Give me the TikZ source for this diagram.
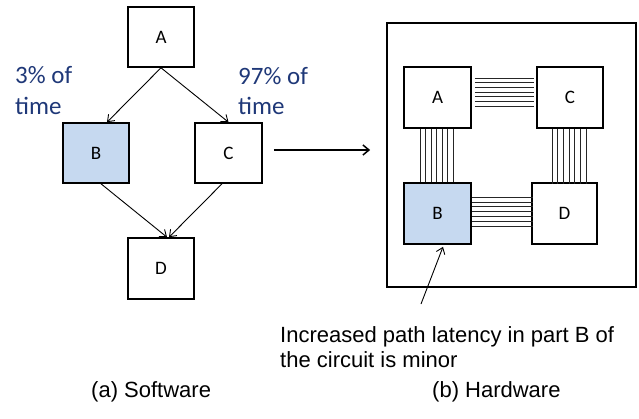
\documentclass[tikz,border=0pt]{standalone}
\usepackage{fontspec}
\setmainfont{Liberation Sans}
\newfontfamily\calibri{Carlito}
\usetikzlibrary{arrows.meta,calc}
\definecolor{labelblue}{RGB}{31,56,120}
\definecolor{hotfill}{RGB}{198,217,240}
\tikzset{
  blk/.style={draw,line width=1.6pt,minimum width=66pt,minimum height=60pt,
              inner sep=0pt,font=\calibri\fontsize{19}{22}\selectfont},
  hot/.style={blk,fill=hotfill},
  flow/.style={line width=0.9pt,-{Straight Barb[length=6pt,width=9pt,line width=0.9pt]}},
  bigflow/.style={line width=1.5pt,-{Straight Barb[length=6pt,width=10pt,line width=1.5pt]}},
  wire/.style={line width=1pt,black!85},
  pct/.style={anchor=base west,inner sep=0pt,text=labelblue,
              font=\calibri\fontsize{25}{30}\selectfont},
  note/.style={anchor=base west,inner sep=0pt,font=\fontsize{22}{26}\selectfont}
}
\begin{document}
\begin{tikzpicture}[x=1pt,y=-1pt]
\useasboundingbox (0,0) rectangle (639,418);

% ---- software: control flow graph ----
\node[blk] (A) at (161,37) {A};
\node[hot] (B) at (96,153) {B};
\node[blk,minimum width=67pt] (C) at (228.5,153) {C};
\node[blk,minimum height=61pt] (D) at (161,268.5) {D};

\draw[flow] (A.south) -- ([xshift=11pt]B.north);
\draw[flow] (A.south) -- (C.north);
\draw[flow] ([xshift=5pt]B.south) -- ([xshift=6pt]D.north);
\draw[flow] ([xshift=-6.5pt]C.south) -- ([xshift=8pt]D.north);

\node[pct] (pb1) at (15,83) {3\% of};
\node[pct] (pb2) at (15,114) {time};
\node[pct] (pc1) at (238,84) {97\% of};
\node[pct] (pc2) at (238,114) {time};

% ---- hardware: circuit with wired blocks ----
\node[draw,line width=1.8pt,minimum width=249pt,minimum height=264pt,inner sep=0pt]
  (hw) at (511.5,155) {};
\node[blk,minimum width=67pt,minimum height=61pt] (hA) at (437.5,97.5) {A};
\node[blk,minimum width=66pt,minimum height=61pt] (hC) at (570,97.5) {C};
\node[hot,minimum width=67pt,minimum height=61pt] (hB) at (437.5,213.5) {B};
\node[blk,minimum width=65pt,minimum height=61pt] (hD) at (564.5,213.5) {D};

% buses between the blocks
\foreach \o in {0,...,6}{
  \draw[wire] ($(hA.north east)+(3,12+4.67*\o)$) -- ($(hC.north west)+(-2,12+4.67*\o)$);
  \draw[wire] ($(hA.south west)+(17+5.5*\o,0)$) -- ($(hB.north west)+(17+5.5*\o,0)$);
  \draw[wire] ($(hC.south west)+(16+5.67*\o,0)$) -- ++(0,55);
  \draw[wire] ($(hB.north east)+(0,15+4.83*\o)$) -- ++(61,0);
}

% mapping arrow
\coordinate (mapstart) at ([xshift=11pt,yshift=3pt]C.east);
\draw[bigflow,shorten >=16pt] (mapstart) -- (mapstart -| hw.west);

% annotation
\coordinate (ptr) at (421,304);
\draw[flow] (ptr) -- ([xshift=5.5pt,yshift=-2pt]hB.south);
\node[note] (n1) at (280,342) {Increased path latency in part B of};
\node[note] (n2) at (280,367) {the circuit is minor};

% captions
\node[note] (capa) at (91,397) {(a) Software};
\node[note] (capb) at (432,397) {(b) Hardware};
\end{tikzpicture}
\end{document}
